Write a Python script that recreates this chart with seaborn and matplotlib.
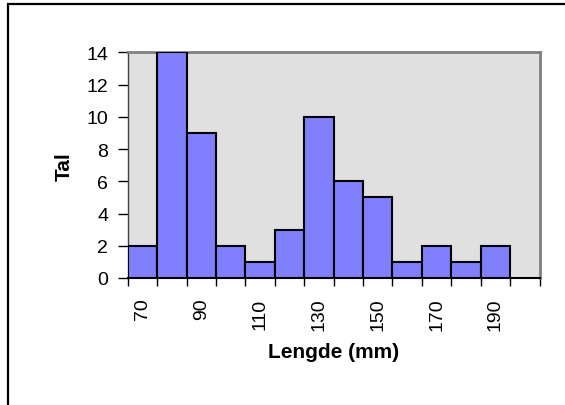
import numpy as np
import pandas as pd
import seaborn as sns
import matplotlib
matplotlib.use("Agg")
import matplotlib.pyplot as plt
from matplotlib.patches import Rectangle

# Data
categories = [70, 80, 90, 100, 110, 120, 130, 140, 150, 160, 170, 180, 190]
counts = [2, 14, 9, 2, 1, 3, 10, 6, 5, 1, 2, 1, 2]
y_ticks = [0, 2, 4, 6, 8, 10, 12, 14]
x_label = "Lengde (mm)"
y_label = "Tal"

sns.set_theme(style="white")
plt.rcParams['font.family'] = ['Liberation Sans', 'DejaVu Sans']
plt.rcParams['text.color'] = 'black'
plt.rcParams['axes.labelcolor'] = 'black'
plt.rcParams['xtick.color'] = 'black'
plt.rcParams['ytick.color'] = 'black'

df = pd.DataFrame({"Lengde": [str(c) for c in categories], "Tal": counts})

fig = plt.figure(figsize=(5.65, 4.06), dpi=100)
ax = fig.add_axes([127.7 / 565, 1 - 279 / 406, (539.5 - 127.7) / 565, 225.7 / 406])

sns.barplot(data=df, x="Lengde", y="Tal", order=[str(c) for c in categories],
            color="#8080FF", saturation=1, width=1.0, edgecolor="black",
            linewidth=1.5, ax=ax, zorder=3)

ax.set_facecolor("#E0E0E0")
ax.set_xlim(-0.5, len(categories) + 0.5)
ax.set_ylim(0, 14)

# y axis
ax.set_yticks(y_ticks)
ax.set_yticklabels([str(v) for v in y_ticks], fontsize=14)
ax.tick_params(axis="y", which="major", direction="out", length=7, width=1,
               color="black", labelcolor="black", pad=7, left=True)

# x axis: ticks at category boundaries, labels at every other bar centre
bounds = np.arange(-0.5, len(categories) + 1, 1)
ax.set_xticks(bounds)
ax.set_xticklabels([""] * len(bounds))
centres = np.arange(0, len(categories), 2)
ax.set_xticks(centres, minor=True)
ax.set_xticklabels([str(c) for c in categories[::2]], minor=True,
                   rotation=90, fontsize=14)
ax.tick_params(axis="x", which="major", direction="out", length=6, width=1,
               color="black", bottom=True)
ax.tick_params(axis="x", which="minor", length=0, pad=14, bottom=True,
               labelcolor="black")
for lab in ax.get_xticklabels(minor=True):
    lab.set_verticalalignment("top")

# spines
ax.spines["top"].set_color("#808080")
ax.spines["top"].set_linewidth(2)
ax.spines["right"].set_color("#808080")
ax.spines["right"].set_linewidth(2)
ax.spines["left"].set_color("#404040")
ax.spines["left"].set_linewidth(1)
ax.spines["bottom"].set_color("black")
ax.spines["bottom"].set_linewidth(1.5)
for s in ax.spines.values():
    s.set_zorder(2.5)

ax.set_xlabel(x_label, fontsize=15, fontweight="bold", va="baseline", color="black")
ax.xaxis.set_label_coords(0.5, (279 - 358.3) / 225.7)
ax.set_ylabel(y_label, fontsize=15, fontweight="bold", va="center", color="black")
ax.yaxis.set_label_coords((64.5 - 127.7) / 411.8, 0.5)

# outer chart frame
fig.patches.append(Rectangle((8 / 565, -0.1), 1.2, 1.1 - 4.5 / 406,
                             transform=fig.transFigure, fill=False,
                             edgecolor="black", linewidth=1.6, clip_on=False))

fig.savefig("out.png", dpi=100)
